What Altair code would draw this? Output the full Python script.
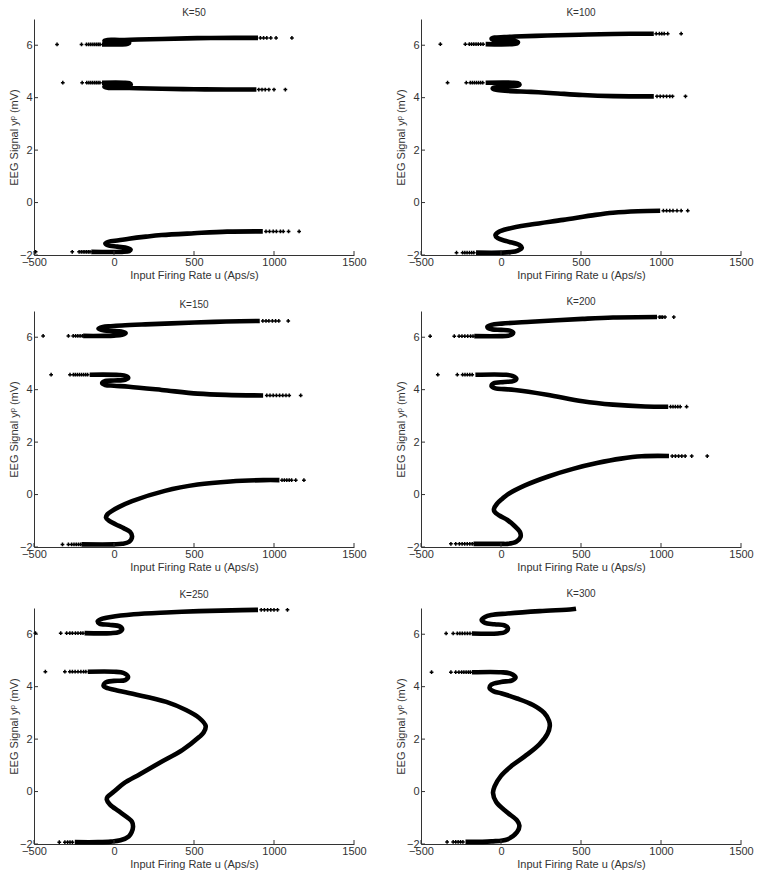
import altair as alt
import pandas as pd

TITLES = ["K=50", "K=100", "K=150", "K=200", "K=250", "K=300"]
X_TICKS = [-500, 0, 500, 1000, 1500]
Y_TICKS = [-2, 0, 2, 4, 6]
X_TITLE = "Input Firing Rate u (Aps/s)"
Y_TITLE = "EEG Signal y\u1d56 (mV)"

# ---------------- K=50 ----------------
k50_top_u = [-75, 40, 85, 95, 75, 0, -45, -60, -40, 40, 150, 300, 520, 750, 900]
k50_top_y = [6.03, 6.03, 6.05, 6.09, 6.12, 6.12, 6.14, 6.17, 6.20, 6.20, 6.22, 6.24, 6.27, 6.28, 6.28]
k50_mid_u = [-75, 60, 95, 105, 85, 0, -45, -60, -40, 60, 150, 300, 500, 700, 890]
k50_mid_y = [4.57, 4.57, 4.55, 4.50, 4.46, 4.46, 4.45, 4.42, 4.38, 4.37, 4.36, 4.34, 4.32, 4.31, 4.31]
k50_bot_u = [-142, 50, 95, 104, 85, 20, -40, -54, -35, 30, 93, 200, 298, 500, 707, 930]
k50_bot_y = [-1.88, -1.88, -1.85, -1.80, -1.74, -1.68, -1.62, -1.56, -1.50, -1.44, -1.38, -1.30, -1.24, -1.17, -1.11, -1.10]
k50_dots_u = [-356, -203, -172, -158, -145, -132, -120, -108, -97, -87,
              915, 935, 955, 980, 1013, 1112,
              -320, -199, -170, -157, -145, -133, -121, -110, -99, -88,
              905, 925, 945, 968, 1000, 1071,
              -490, -261, -218, -205, -193, -182, -171, -160, -150,
              950, 972, 995, 1015, 1040, 1058, 1091, 1157]
k50_dots_y = [6.03] * 10 + [6.28] * 6 + [4.57] * 10 + [4.31] * 6 + [-1.88] * 9 + [-1.10] * 8

# ---------------- K=100 ----------------
k100_top_u = [-96, 60, 100, 106, 85, 0, -45, -59, -40, 20, 86, 288, 490, 700, 955]
k100_top_y = [6.04, 6.04, 6.07, 6.11, 6.16, 6.18, 6.20, 6.25, 6.29, 6.31, 6.33, 6.37, 6.40, 6.43, 6.44]
k100_mid_u = [-96, 70, 105, 116, 100, 20, -40, -52, -30, 45, 187, 328, 510, 700, 955]
k100_mid_y = [4.57, 4.57, 4.55, 4.50, 4.45, 4.41, 4.39, 4.35, 4.30, 4.26, 4.22, 4.17, 4.10, 4.06, 4.05]
k100_bot_u = [-156, 0, 60, 105, 130, 115, 40, -20, -35, -15, 45, 187, 389, 591, 700, 854, 995]
k100_bot_y = [-1.91, -1.91, -1.89, -1.83, -1.72, -1.62, -1.48, -1.36, -1.24, -1.12, -1.00, -0.84, -0.66, -0.47, -0.39, -0.33, -0.31]
k100_dots_u = [-379, -223, -198, -184, -170, -156, -142, -127, -112,
               970, 990, 1005, 1020, 1042, 1126,
               -334, -217, -192, -179, -166, -153, -140, -127, -114,
               975, 995, 1015, 1035, 1055, 1072, 1153,
               -278, -240, -226, -212, -197, -183, -170,
               1015, 1035, 1055, 1075, 1100, 1126, 1167]
k100_dots_y = [6.04] * 9 + [6.44] * 6 + [4.57] * 9 + [4.05] * 7 + [-1.91] * 7 + [-0.31] * 7

# ---------------- K=150 ----------------
k150_top_u = [-193, 0, 50, 73, 45, -10, -60, -97, -70, -20, 50, 196, 502, 700, 911]
k150_top_y = [6.05, 6.06, 6.09, 6.16, 6.22, 6.24, 6.26, 6.33, 6.39, 6.42, 6.45, 6.49, 6.56, 6.60, 6.62]
k150_mid_u = [-152, 32, 75, 89, 70, 0, -60, -74, -55, 0, 93, 298, 523, 700, 932]
k150_mid_y = [4.57, 4.56, 4.52, 4.45, 4.38, 4.35, 4.32, 4.25, 4.18, 4.15, 4.11, 3.99, 3.85, 3.80, 3.78]
k150_bot_u = [-203, 0, 50, 95, 113, 100, 60, 12, -30, -50, -42, -12, 32, 113, 318, 523, 727, 932, 1034]
k150_bot_y = [-1.90, -1.90, -1.88, -1.80, -1.60, -1.42, -1.28, -1.14, -1.00, -0.88, -0.76, -0.62, -0.47, -0.25, 0.14, 0.38, 0.50, 0.55, 0.55]
k150_dots_u = [-443, -285, -255, -240, -226, -212, -198,
               930, 950, 968, 990, 1010, 1030, 1089,
               -393, -275, -254, -242, -229, -216, -203, -190, -177, -165,
               955, 975, 995, 1015, 1035, 1055, 1075, 1095, 1167,
               -322, -285, -265, -250, -236, -222, -209,
               1050, 1065, 1080, 1095, 1110, 1136, 1187]
k150_dots_y = [6.05] * 7 + [6.62] * 7 + [4.57] * 10 + [3.78] * 9 + [-1.90] * 7 + [0.55] * 7

# ---------------- K=200 ----------------
k200_top_u = [-167, 0, 45, 70, 76, 55, 0, -55, -80, -85, -60, 5, 187, 510, 700, 975]
k200_top_y = [6.04, 6.04, 6.06, 6.11, 6.18, 6.25, 6.28, 6.30, 6.34, 6.40, 6.47, 6.52, 6.59, 6.70, 6.75, 6.77]
k200_mid_u = [-160, 25, 70, 96, 80, 20, -45, -59, -35, 20, 86, 288, 510, 700, 900, 1045]
k200_mid_y = [4.57, 4.57, 4.53, 4.42, 4.33, 4.29, 4.24, 4.13, 4.05, 4.02, 3.99, 3.81, 3.56, 3.43, 3.36, 3.35]
k200_bot_u = [-172, 0, 40, 95, 122, 118, 85, 40, -10, -40, -44, -25, 10, 40, 150, 300, 450, 600, 750, 880, 1050]
k200_bot_y = [-1.88, -1.88, -1.88, -1.80, -1.62, -1.42, -1.20, -0.97, -0.80, -0.66, -0.55, -0.35, -0.15, 0.00, 0.35, 0.70, 0.98, 1.20, 1.37, 1.46, 1.47]
k200_dots_u = [-443, -292, -262, -244, -226, -208, -190, -175,
               990, 1000, 1010, 1025, 1080,
               -395, -273, -240, -225, -210, -195, -180,
               1060, 1075, 1090, 1105, 1120, 1160,
               -313, -283, -260, -243, -227, -211, -195, -180,
               1070, 1090, 1110, 1130, 1151, 1192, 1289]
k200_dots_y = [6.04] * 8 + [6.77] * 5 + [4.57] * 7 + [3.35] * 6 + [-1.88] * 8 + [1.47] * 7

# ---------------- K=250 ----------------
k250_top_u = [-184, -20, 30, 51, 35, -30, -90, -102, -80, -20, 123, 327, 532, 736, 900]
k250_top_y = [6.04, 6.04, 6.08, 6.19, 6.30, 6.36, 6.40, 6.49, 6.58, 6.66, 6.76, 6.83, 6.88, 6.91, 6.93]
k250_low_u = [-164, 0, 60, 88, 70, 0, -55, -65, -40, 0, 123, 327, 450, 532, 573, 560, 532, 429, 286, 164, 61, 0,
              -40, -45, -25, 30, 82, 112, 119, 110, 92, 40, -20, -100, -245]
k250_low_y = [4.57, 4.57, 4.52, 4.37, 4.25, 4.22, 4.15, 4.03, 3.94, 3.88, 3.72, 3.42, 3.11, 2.81, 2.50, 2.25, 2.08, 1.59, 1.10, 0.67, 0.31, 0.00,
              -0.20, -0.31, -0.50, -0.75, -0.98, -1.15, -1.34, -1.55, -1.71, -1.86, -1.91, -1.93, -1.93]
k250_dots_u = [-491, -333, -296, -276, -260, -241, -225, -208, -194,
               920, 940, 960, 980, 1000, 1022, 1084,
               -429, -307, -276, -260, -243, -225, -207, -190, -176,
               -342, -307, -290, -275, -260]
k250_dots_y = [6.04] * 9 + [6.93] * 7 + [4.57] * 9 + [-1.93] * 5

# ---------------- K=300 ----------------
k300_top_u = [-182, -20, 25, 44, 25, -40, -100, -121, -100, -61, 40, 242, 444, 469]
k300_top_y = [6.03, 6.03, 6.08, 6.22, 6.33, 6.38, 6.43, 6.55, 6.66, 6.73, 6.79, 6.88, 6.95, 6.97]
k300_low_u = [-182, 0, 60, 91, 70, 0, -60, -71, -45, 0, 100, 200, 270, 300, 305, 290, 240, 150, 60, 0,
              -40, -50, -30, 40, 100, 115, 100, 40, -60, -222]
k300_low_y = [4.55, 4.55, 4.50, 4.36, 4.24, 4.18, 4.08, 3.94, 3.82, 3.75, 3.55, 3.30, 3.00, 2.70, 2.50, 2.20, 1.80, 1.35, 0.95, 0.60,
              0.20, -0.05, -0.40, -0.80, -1.10, -1.30, -1.55, -1.82, -1.90, -1.92]
k300_dots_u = [-343, -299, -273, -257, -242, -226, -210, -194,
               -434, -313, -283, -263, -246, -232, -218, -204, -192,
               -337, -299, -283, -268, -253, -238]
k300_dots_y = [6.03] * 8 + [4.55] * 9 + [-1.92] * 6

PANELS = [
    (TITLES[0], [(k50_top_u, k50_top_y), (k50_mid_u, k50_mid_y), (k50_bot_u, k50_bot_y)], (k50_dots_u, k50_dots_y)),
    (TITLES[1], [(k100_top_u, k100_top_y), (k100_mid_u, k100_mid_y), (k100_bot_u, k100_bot_y)], (k100_dots_u, k100_dots_y)),
    (TITLES[2], [(k150_top_u, k150_top_y), (k150_mid_u, k150_mid_y), (k150_bot_u, k150_bot_y)], (k150_dots_u, k150_dots_y)),
    (TITLES[3], [(k200_top_u, k200_top_y), (k200_mid_u, k200_mid_y), (k200_bot_u, k200_bot_y)], (k200_dots_u, k200_dots_y)),
    (TITLES[4], [(k250_top_u, k250_top_y), (k250_low_u, k250_low_y)], (k250_dots_u, k250_dots_y)),
    (TITLES[5], [(k300_top_u, k300_top_y), (k300_low_u, k300_low_y)], (k300_dots_u, k300_dots_y)),
]

W, H = 320, 236
INK = "#333333"
FONT = "Liberation Sans"


def curve_frame(branches):
    rows = []
    for b, (us, ys) in enumerate(branches):
        for i, (u, y) in enumerate(zip(us, ys)):
            rows.append({"branch": b, "i": i, "u": u, "y": y})
    return pd.DataFrame(rows)


def panel(title, branches, dots):
    xenc = alt.X("u:Q", scale=alt.Scale(domain=[-500, 1500], nice=False, zero=False),
                 axis=alt.Axis(values=X_TICKS, title=X_TITLE, format="d"))
    yenc = alt.Y("y:Q", scale=alt.Scale(domain=[-2, 7], nice=False, zero=False),
                 axis=alt.Axis(values=Y_TICKS, title=Y_TITLE, format="d"))
    line = alt.Chart(curve_frame(branches)).mark_line(
        interpolate="catmull-rom", color="black", strokeWidth=4.6, strokeCap="butt"
    ).encode(x=xenc, y=yenc, detail="branch:N", order="i:Q")
    pts = alt.Chart(pd.DataFrame({"u": dots[0], "y": dots[1]})).mark_point(
        filled=True, shape="cross", size=14, color="black", opacity=1
    ).encode(x=xenc, y=yenc)
    xt = alt.Chart(pd.DataFrame({"u": X_TICKS})).mark_rule(color=INK, strokeWidth=1).encode(
        x=xenc, y=alt.value(H), y2=alt.value(H - 4))
    yt = alt.Chart(pd.DataFrame({"y": Y_TICKS})).mark_rule(color=INK, strokeWidth=1).encode(
        y=yenc, x=alt.value(0), x2=alt.value(4))
    return alt.layer(line, pts, xt, yt).properties(
        width=W, height=H, title=alt.TitleParams(title, fontSize=10, offset=1))


charts = [panel(*p) for p in PANELS]
rows = [alt.hconcat(charts[i], charts[i + 1], spacing=28) for i in range(0, 6, 2)]
chart = alt.vconcat(*rows, spacing=16).properties(
    padding={"left": 0, "top": 0, "right": 0, "bottom": 3}
).configure_view(strokeWidth=0).configure_axis(
    grid=False, ticks=False, domainColor=INK, domainWidth=1,
    labelColor=INK, titleColor=INK, labelFont=FONT, titleFont=FONT,
    labelFontSize=11, titleFontSize=11, titleFontWeight="normal",
    labelFlush=False, labelOverlap=False
).configure_axisX(labelPadding=1, titlePadding=2).configure_axisY(
    labelPadding=2, titlePadding=0
).configure_title(font=FONT, color=INK, fontWeight="normal", anchor="middle")

chart.save("out.html", embed_options={"renderer": "svg", "actions": False})
